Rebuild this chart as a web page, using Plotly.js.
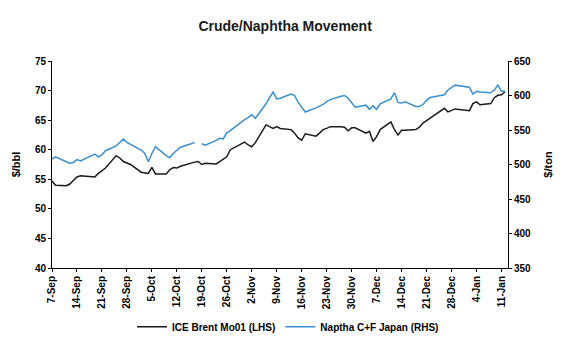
<!DOCTYPE html>
<html>
<head>
<meta charset="utf-8">
<script src="https://cdn.plot.ly/plotly-3.0.1.min.js"></script>
<style>html,body{margin:0;padding:0;background:#fff;}#chart{width:576px;height:347px;}</style>
</head>
<body>
<div id="chart"></div>
<script>
const dates = [
 '2017-09-07','2017-09-08','2017-09-11','2017-09-12','2017-09-13','2017-09-14','2017-09-15',
 '2017-09-18','2017-09-19','2017-09-20','2017-09-21','2017-09-22',
 '2017-09-25','2017-09-26','2017-09-27','2017-09-28','2017-09-29',
 '2017-10-02','2017-10-03','2017-10-04','2017-10-05','2017-10-06',
 '2017-10-09','2017-10-10','2017-10-11','2017-10-12','2017-10-13',
 '2017-10-16','2017-10-17','2017-10-18','2017-10-19','2017-10-20',
 '2017-10-23','2017-10-24','2017-10-25','2017-10-26','2017-10-27',
 '2017-10-30','2017-10-31','2017-11-01','2017-11-02','2017-11-03',
 '2017-11-06','2017-11-07','2017-11-08','2017-11-09','2017-11-10',
 '2017-11-13','2017-11-14','2017-11-15','2017-11-16','2017-11-17',
 '2017-11-20','2017-11-21','2017-11-22','2017-11-23','2017-11-24',
 '2017-11-27','2017-11-28','2017-11-29','2017-11-30','2017-12-01',
 '2017-12-04','2017-12-05','2017-12-06','2017-12-07','2017-12-08',
 '2017-12-11','2017-12-12','2017-12-13','2017-12-14','2017-12-15',
 '2017-12-18','2017-12-19','2017-12-20','2017-12-21','2017-12-22',
 '2017-12-26','2017-12-27','2017-12-28','2017-12-29',
 '2018-01-02','2018-01-03','2018-01-04','2018-01-05',
 '2018-01-08','2018-01-09','2018-01-10','2018-01-11','2018-01-12'
];
const brent = [
 54.7,54.0,53.9,54.2,54.8,55.4,55.6,
 55.5,55.4,56.0,56.4,56.9,
 59.0,58.6,58.0,57.7,57.5,
 56.2,56.1,56.0,57.0,55.9,
 55.9,56.6,57.0,56.9,57.2,
 57.8,57.9,58.0,57.5,57.7,
 57.6,58.0,58.4,58.8,60.0,
 61.0,61.3,60.8,60.5,61.2,
 64.2,63.9,63.6,63.9,63.6,
 63.4,62.8,62.0,61.6,62.7,
 62.3,62.8,63.4,63.6,63.9,
 63.9,63.8,63.2,63.7,63.7,
 62.8,63.1,61.4,62.2,63.4,
 64.7,63.4,62.5,63.3,63.3,
 63.4,63.8,64.5,64.9,65.3,
 67.0,66.4,66.7,66.9,
 66.6,67.8,68.1,67.6,
 67.8,68.8,69.2,69.3,69.8
];
const naphtha = [
 508,511,504,502,503,507,505,
 512,515,511,514,520,
 527,532,537,532,529,
 521,516,504,516,526,
 513,510,516,521,525,
 530,532,null,530,528,
 535,538,537,546,549,
 562,565,568,572,567,
 588,597,605,595,596,
 602,600,590,582,576,
 582,584,587,591,594,
 599,600,596,590,583,
 586,580,585,580,588,
 595,604,590,589,591,
 584,584,587,593,597,
 601,608,612,615,
 612,602,606,605,
 604,608,615,606,606
];
const tickDates = ['2017-09-07','2017-09-14','2017-09-21','2017-09-28','2017-10-05','2017-10-12','2017-10-19','2017-10-26','2017-11-02','2017-11-09','2017-11-16','2017-11-23','2017-11-30','2017-12-07','2017-12-14','2017-12-21','2017-12-28','2018-01-04','2018-01-11'];
const tickLabels = ['7-Sep','14-Sep','21-Sep','28-Sep','5-Oct','12-Oct','19-Oct','26-Oct','2-Nov','9-Nov','16-Nov','23-Nov','30-Nov','7-Dec','14-Dec','21-Dec','28-Dec','4-Jan','11-Jan'];
const seriesNames = ['ICE Brent Mo01 (LHS)','Naptha C+F Japan (RHS)'];

const F = 'Arial, "Liberation Sans", sans-serif';
const tickFont = {family: F, size: 10, color: '#000', weight: 'bold'};

const traces = [
 {x: dates, y: brent, name: seriesNames[0], type: 'scatter', mode: 'lines',
  line: {color: '#1a1a1a', width: 1.5}, yaxis: 'y'},
 {x: dates, y: naphtha, name: seriesNames[1], type: 'scatter', mode: 'lines',
  line: {color: '#3b8fd0', width: 1.5}, yaxis: 'y2', connectgaps: false}
];

const layout = {
 width: 576, height: 347,
 margin: {l: 52, r: 68, t: 61, b: 79},
 paper_bgcolor: '#fff', plot_bgcolor: '#fff',
 showlegend: true,
 title: {text: '<b>Crude/Naphtha Movement</b>', x: 0.495, xref: 'container', y: 0.925, yref: 'container', yanchor: 'middle', xanchor: 'center',
  font: {family: '"Liberation Sans Narrow", "Arial Narrow", Arial, sans-serif', size: 14, color: '#1a1a1a'}},
 xaxis: {type: 'date', range: ['2017-09-07', '2018-01-12 20:00'], tickvals: tickDates, ticktext: tickLabels,
  tickangle: -90, tickfont: tickFont, showgrid: false, zeroline: false, showline: true, linecolor: '#000', linewidth: 1,
  ticks: 'outside', ticklen: 3, tickcolor: '#000', automargin: false},
 yaxis: {range: [40, 75], dtick: 5, tickfont: tickFont, showgrid: false, zeroline: false, showline: true,
  linecolor: '#000', linewidth: 1, ticks: 'outside', ticklen: 3, tickcolor: '#000', automargin: false,
  title: {text: '<b>$/bbl</b>', font: {family: F, size: 11, color: '#000'}, standoff: 12}},
 yaxis2: {range: [350, 650], dtick: 50, overlaying: 'y', side: 'right', tickfont: tickFont, showgrid: false,
  zeroline: false, showline: true, linecolor: '#000', linewidth: 1, ticks: 'outside', ticklen: 3, tickcolor: '#000', automargin: false,
  title: {text: '<b>$/ton</b>', font: {family: F, size: 11, color: '#000'}, standoff: 14}},
 legend: {orientation: 'h', x: 0.5, xref: 'container', xanchor: 'center', y: 0.058, yref: 'container', yanchor: 'middle',
  font: {family: F, size: 10, color: '#000', weight: 'bold'}, itemwidth: 30, tracegroupgap: 0}
};

Plotly.newPlot('chart', traces, layout, {displayModeBar: false, staticPlot: true});
</script>
</body>
</html>
